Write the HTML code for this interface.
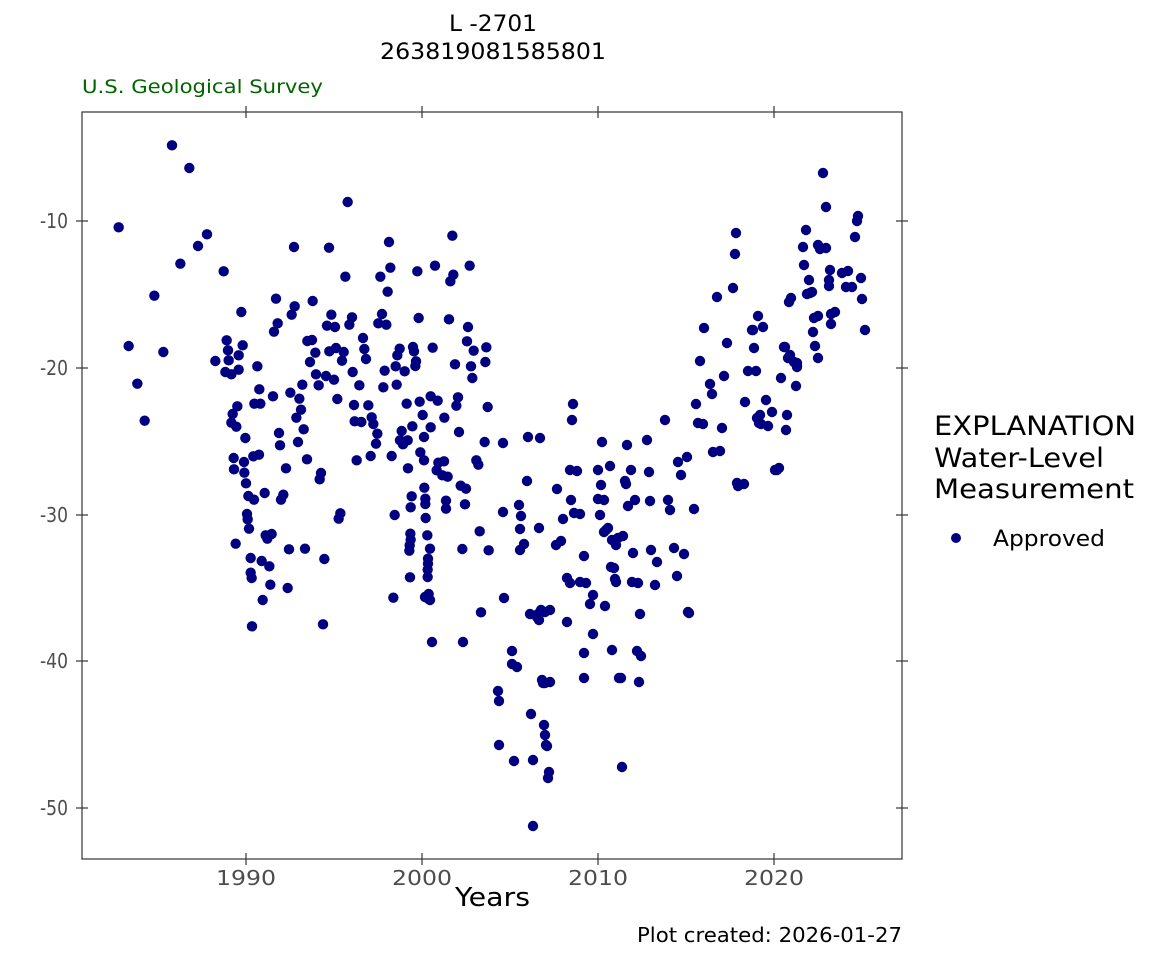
<!DOCTYPE html>
<html><head><meta charset="utf-8"><style>body{margin:0;background:#fff}svg{display:block}</style></head><body>
<svg id="s" width="1152" height="960" xmlns="http://www.w3.org/2000/svg" font-family="DejaVu Sans, Liberation Sans, sans-serif">
<rect width="1152" height="960" fill="#fff"/>
<text x="449" y="31" font-size="22" textLength="88" lengthAdjust="spacingAndGlyphs">L -2701</text>
<text x="380" y="59" font-size="22" textLength="226" lengthAdjust="spacingAndGlyphs">263819081585801</text>
<text x="82" y="93" font-size="19" fill="#006400" textLength="241" lengthAdjust="spacingAndGlyphs">U.S. Geological Survey</text>
<rect x="82" y="112" width="820" height="747" fill="none" stroke="#333" stroke-width="1.2"/>
<g stroke="#333" stroke-width="1.2" id="ticks"></g>
<g font-size="20" fill="#4d4d4d">
<text x="40" y="228" textLength="28" lengthAdjust="spacingAndGlyphs">-10</text><text x="40" y="375" textLength="28" lengthAdjust="spacingAndGlyphs">-20</text><text x="40" y="522" textLength="28" lengthAdjust="spacingAndGlyphs">-30</text><text x="40" y="668" textLength="28" lengthAdjust="spacingAndGlyphs">-40</text><text x="40" y="815" textLength="28" lengthAdjust="spacingAndGlyphs">-50</text></g>
<g font-size="20" fill="#4d4d4d">
<text x="216" y="885" textLength="60" lengthAdjust="spacingAndGlyphs">1990</text><text x="392" y="885" textLength="60" lengthAdjust="spacingAndGlyphs">2000</text><text x="568" y="885" textLength="60" lengthAdjust="spacingAndGlyphs">2010</text><text x="744" y="885" textLength="60" lengthAdjust="spacingAndGlyphs">2020</text></g>
<text x="455" y="906" font-size="26" textLength="75" lengthAdjust="spacingAndGlyphs">Years</text>
<text x="637" y="942" font-size="20" textLength="265" lengthAdjust="spacingAndGlyphs">Plot created: 2026-01-27</text>
<text x="934" y="435" font-size="27" textLength="202" lengthAdjust="spacingAndGlyphs">EXPLANATION</text>
<text x="934" y="467" font-size="27" textLength="170" lengthAdjust="spacingAndGlyphs">Water-Level</text>
<text x="934" y="498" font-size="27" textLength="200" lengthAdjust="spacingAndGlyphs">Measurement</text>
<circle cx="956" cy="538" r="5" fill="#000080"/>
<text x="993" y="546" font-size="22" textLength="112" lengthAdjust="spacingAndGlyphs">Approved</text>
<g id="pts" fill="#000080"></g>
</svg>
<script>
var ns="http://www.w3.org/2000/svg";
var t=document.getElementById('ticks');
function ln(a,b,c,d){var l=document.createElementNS(ns,'line');l.setAttribute('x1',a);l.setAttribute('y1',b);l.setAttribute('x2',c);l.setAttribute('y2',d);t.appendChild(l);}
[221,368,515,661,808].forEach(function(y){ln(76,y,88,y);ln(896,y,908,y);});
[246,422,598,774].forEach(function(x){ln(x,106,x,118);ln(x,853,x,865);});
var z=[270,100,322,168,797,270,110,346,375,367,348,402,636,405,741,407,921,390,1111,371,295,455,425,478,790,494,895,494,925,467,1006,478,1059,461,1114,488,1105,508,1163,461,917,539,217,551,582,560,692,567,638,583,629,608,478,600,748,608,810,616,900,606,735,641,759,645,802,638,889,634,913,638,1010,618,1101,622,1158,645,587,634,576,659,676,687,690,684,843,678,847,711,852,741,1155,688,1175,716,1213,706,1210,750,140,702,244,720,434,685,482,700,438,715,470,730,400,747,440,745,430,780,448,787,470,773,526,763,700,722,742,718,762,708,785,720,780,746,684,750,953,710,946,730,993,705,996,718,1002,748,1000,762,1052,707,941,763,968,778,1119,757,1167,763,1171,798,908,776,904,826,944,818,702,787,732,792,756,803,710,820,812,780,832,820,166,815,532,832,573,853,625,842,661,818,652,860,657,893,643,917,665,952,766,861,517,875,535,875,816,879,859,880,974,875,1013,869,1046,853,1067,866,1128,856,1123,881,1217,885,466,883,452,906,448,932,463,944,818,928,838,930,869,916,874,936,886,965,882,995,1022,909,1087,917,1131,960,991,943,1046,946,959,957,954,985,977,985,963,997,1026,975,1208,990,188,926,490,978,591,963,594,1000,648,990,1015,1021,1026,1045,1069,1052,1086,1048,1064,1075,1081,1090,1097,1094,455,1038,486,1050,456,1072,487,1082,514,1033,531,1028,612,1069,675,1042,824,1045,866,1032,929,1032,978,1069,1183,1045,1189,1058,717,1083,713,1102,492,1114,499,1152,516,1163,548,1143,604,1148,597,1163,1027,1127,989,1153,986,1186,1030,1160,1030,1176,1092,1166,1092,1190,1136,1121,1152,1130,1149,1177,495,1206,497,1222,501,1250,775,1204,770,1220,938,1209,1031,1218,1193,1258,551,1270,569,1266,556,1280,985,1265,986,1283,983,1300,982,1316,1036,1270,1044,1310,1141,1311,1220,1315,461,1295,621,1312,669,1310,506,1338,539,1347,562,1363,727,1341,1038,1340,1038,1355,1037,1373,1037,1395,984,1396,506,1382,509,1398,565,1418,617,1428,1040,1446,1040,1461,934,1457,542,1464,1197,1501,510,1543,723,1537];
var p=[503,443,503,512,504,598,519,505,520,529,521,516,520,550,524,544,527,481,528,437,540,438,539,528,541,610,545,612,550,610,556,545,557,489,561,541,563,519,567,578,570,583,573,404,572,420,574,513,571,500,570,470,
425,597,430,600,432,642,463,642,498,691,499,701,499,745,512,651,512,664,517,667,514,761,531,714,533,760,545,683,548,778,549,772,550,682,544,725,545,735,546,745,543,683,530,614,537,617,539,620,542,680,547,746,533,826,538,614,567,622,584,653,584,678,612,650,622,767,621,678,641,656,
577,471,580,514,580,582,584,556,586,583,590,604,593,634,593,595,598,499,598,470,602,442,601,485,600,515,604,500,604,532,606,530,608,528,610,466,605,606,612,540,614,568,616,582,616,545,619,678,623,536,626,484,627,445,632,582,635,500,
611,567,615,579,618,538,625,481,628,506,631,470,633,553,638,583,637,651,639,682,640,614,647,440,649,472,650,501,651,550,655,585,657,562,665,420,668,500,670,510,674,548,677,576,678,462,684,554,688,612,689,613,694,509,696,404,698,423,687,457,681,475,
700,361,703,424,704,328,710,384,712,394,713,452,717,297,720,451,724,376,727,343,722,428,733,288,737,483,735,254,736,233,738,486,745,402,748,371,752,330,754,348,756,371,758,316,760,415,757,418,759,423,744,484,753,330,
763,327,761,424,768,426,766,400,772,412,775,470,779,468,784,347,787,415,786,430,788,358,790,355,797,363,797,367,806,230,803,247,807,294,810,293,809,280,818,358,814,318,818,316,820,249,
823,173,826,207,826,248,830,270,829,280,829,286,831,314,835,312,831,324,842,273,846,287,848,271,852,287,855,237,857,221,858,216,861,278,862,299,865,330,
777,470,781,378,785,347,789,302,791,298,794,362,796,386,797,366,804,265,812,292,813,332,815,346,818,245];
var g=document.getElementById('pts');
function c(x,y){var e=document.createElementNS(ns,'circle');e.setAttribute('cx',x);e.setAttribute('cy',y);e.setAttribute('r',5.2);g.appendChild(e);}
for(var i=0;i<z.length;i+=2)c(82+z[i]/3,112+z[i+1]/3);
for(var i=0;i<p.length;i+=2)c(p[i],p[i+1]);
</script>
</body></html>
